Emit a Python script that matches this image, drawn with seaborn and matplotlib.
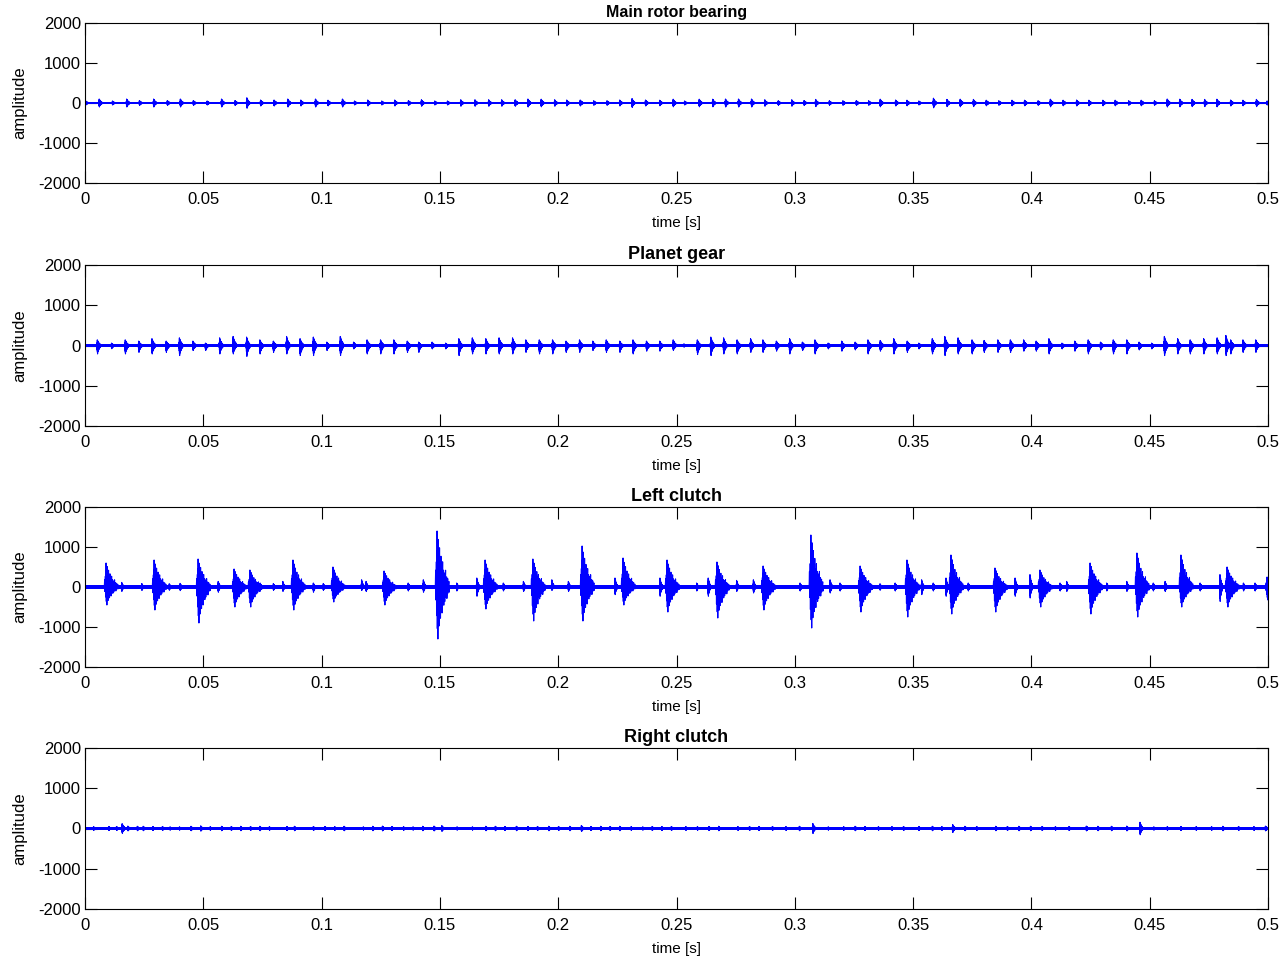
import numpy as np
import pandas as pd
import matplotlib
matplotlib.use("Agg")
import matplotlib.pyplot as plt
import seaborn as sns

# ---------------- data ----------------
titles = ["Main rotor bearing", "Planet gear", "Left clutch", "Right clutch"]
x_ticks = [0, 0.05, 0.1, 0.15, 0.2, 0.25, 0.3, 0.35, 0.4, 0.45, 0.5]
x_tick_labels = ["0", "0.05", "0.1", "0.15", "0.2", "0.25", "0.3", "0.35", "0.4", "0.45", "0.5"]
y_ticks = [-2000, -1000, 0, 1000, 2000]
y_tick_labels = ["-2000", "-1000", "0", "1000", "2000"]

# Main rotor bearing: impulse times [s] and amplitude
rotor_t = [0.0003, 0.0060, 0.0116, 0.0176, 0.0230, 0.0290, 0.0348, 0.0403, 0.0458, 0.0516,
           0.0577, 0.0634, 0.0684, 0.0742, 0.0799, 0.0857, 0.0912, 0.0974, 0.1027, 0.1088,
           0.1139, 0.1195, 0.1254, 0.1309, 0.1367, 0.1422, 0.1478, 0.1532, 0.1588, 0.1648,
           0.1706, 0.1761, 0.1818, 0.1872, 0.1928, 0.1985, 0.2036, 0.2093, 0.2150, 0.2206,
           0.2260, 0.2312, 0.2369, 0.2429, 0.2486, 0.2534, 0.2596, 0.2653, 0.2707, 0.2762,
           0.2817, 0.2873, 0.2930, 0.2987, 0.3039, 0.3088, 0.3146, 0.3203, 0.3260, 0.3312,
           0.3361, 0.3426, 0.3474, 0.3524, 0.3586, 0.3643, 0.3699, 0.3755, 0.3809, 0.3862,
           0.3918, 0.3971, 0.4028, 0.4080, 0.4134, 0.4191, 0.4243, 0.4302, 0.4354, 0.4411,
           0.4464, 0.4520, 0.4574, 0.4627, 0.4679, 0.4732, 0.4784, 0.4842, 0.4894, 0.4951,
           0.4996]
rotor_amp = [50, 100, 50, 100, 60, 100, 60, 100, 60, 50,
             100, 60, 130, 75, 75, 100, 75, 100, 70, 100,
             50, 75, 50, 75, 60, 80, 50, 50, 80, 80,
             80, 80, 80, 100, 95, 80, 75, 75, 55, 55,
             75, 110, 75, 70, 95, 50, 95, 95, 100, 100,
             100, 80, 55, 80, 60, 90, 55, 55, 60, 55,
             95, 75, 70, 50, 120, 90, 95, 90, 70, 55,
             70, 70, 55, 95, 70, 75, 70, 70, 70, 55,
             70, 55, 100, 95, 90, 90, 95, 75, 70, 90,
             50]

# Planet gear: impulse times [s], positive and negative peaks
gear_t = [0.0052, 0.0112, 0.0170, 0.0227, 0.0283, 0.0343, 0.0399, 0.0456, 0.0509, 0.0569,
          0.0626, 0.0683, 0.0739, 0.0796, 0.0852, 0.0909, 0.0965, 0.1022, 0.1079, 0.1135,
          0.1192, 0.1249, 0.1305, 0.1362, 0.1410, 0.1467, 0.1524, 0.1580, 0.1637, 0.1694,
          0.1750, 0.1807, 0.1863, 0.1920, 0.1976, 0.2033, 0.2090, 0.2146, 0.2203, 0.2260,
          0.2316, 0.2373, 0.2429, 0.2486, 0.2531, 0.2588, 0.2645, 0.2699, 0.2756, 0.2813,
          0.2865, 0.2922, 0.2978, 0.3032, 0.3085, 0.3141, 0.3198, 0.3255, 0.3309, 0.3361,
          0.3418, 0.3475, 0.3524, 0.3581, 0.3634, 0.3690, 0.3749, 0.3800, 0.3858, 0.3911,
          0.3967, 0.4020, 0.4074, 0.4129, 0.4183, 0.4240, 0.4292, 0.4346, 0.4403, 0.4455,
          0.4508, 0.4562, 0.4618, 0.4671, 0.4728, 0.4785, 0.4822, 0.4842, 0.4894, 0.4948]
gear_pos = [140, 60, 140, 110, 170, 110, 190, 110, 60, 190,
            225, 210, 140, 110, 225, 170, 210, 85, 225, 85,
            140, 140, 140, 110, 85, 85, 60, 170, 190, 170,
            190, 190, 140, 140, 140, 110, 140, 110, 140, 110,
            140, 110, 110, 140, 40, 140, 210, 190, 140, 170,
            140, 110, 170, 85, 140, 60, 110, 85, 140, 125,
            170, 110, 60, 170, 225, 190, 140, 125, 140, 140,
            140, 110, 170, 60, 110, 140, 85, 140, 140, 85,
            60, 225, 170, 140, 170, 190, 250, 140, 140, 140]
gear_neg = [210, 80, 210, 170, 210, 170, 250, 125, 125, 210,
            210, 270, 210, 170, 210, 250, 250, 125, 250, 85,
            210, 210, 210, 170, 170, 85, 85, 250, 210, 210,
            210, 210, 170, 210, 210, 170, 170, 125, 170, 170,
            210, 140, 140, 125, 40, 225, 250, 210, 210, 170,
            170, 140, 210, 125, 210, 85, 140, 110, 210, 140,
            210, 170, 85, 210, 250, 210, 210, 170, 170, 170,
            140, 140, 210, 85, 140, 210, 110, 210, 210, 110,
            85, 250, 210, 210, 210, 210, 250, 210, 170, 170]

# Left clutch: main bursts [s], positive and negative peaks
clutch_t = [0.0089, 0.0292, 0.0478, 0.0630, 0.0697, 0.0879, 0.1048, 0.1264, 0.1488, 0.1691,
            0.1893, 0.2101, 0.2274, 0.2460, 0.2671, 0.2866, 0.3068, 0.3276, 0.3474, 0.3660,
            0.3846, 0.4036, 0.4248, 0.4446, 0.4632, 0.4827, 0.4996]
clutch_pos = [600, 675, 700, 450, 425, 675, 500, 400, 1400, 675,
              700, 1025, 725, 675, 625, 525, 1300, 525, 675, 800,
              475, 425, 600, 850, 800, 500, 250]
clutch_neg = [450, 575, 900, 500, 500, 575, 375, 450, 1300, 550,
              850, 850, 450, 625, 775, 575, 1025, 625, 750, 675,
              625, 500, 675, 750, 500, 500, 325]
# Left clutch: small isolated spikes between the bursts
clutch_minor_t = [0.0155, 0.0240, 0.0356, 0.0402, 0.0563, 0.0740, 0.0796, 0.0836, 0.0965, 0.1007,
                  0.1169, 0.1188, 0.1366, 0.1430, 0.1571, 0.1656, 0.1768, 0.1853, 0.1973, 0.2043,
                  0.2240, 0.2430, 0.2585, 0.2634, 0.2754, 0.2825, 0.3022, 0.3149, 0.3191, 0.3360,
                  0.3424, 0.3536, 0.3585, 0.3639, 0.3733, 0.3931, 0.3994, 0.4121, 0.4149, 0.4318,
                  0.4403, 0.4515, 0.4565, 0.4713, 0.4797, 0.4896, 0.4945]
clutch_minor_pos = [115, 85, 80, 90, 140, 100, 85, 140, 100, 85,
                    180, 140, 100, 180, 100, 225, 100, 140, 180, 140,
                    225, 225, 100, 225, 165, 180, 100, 180, 100, 80,
                    100, 180, 100, 225, 100, 225, 310, 100, 140, 100,
                    140, 100, 140, 100, 310, 100, 100]
clutch_minor_neg = [110, 85, 80, 90, 130, 100, 85, 110, 130, 85,
                    85, 110, 100, 130, 100, 230, 100, 110, 85, 110,
                    190, 230, 100, 230, 110, 150, 100, 150, 100, 80,
                    100, 190, 100, 230, 100, 230, 275, 100, 110, 100,
                    110, 100, 110, 100, 360, 100, 100]

# Right clutch: small events [s] and amplitude
right_t = [0.0036, 0.0100, 0.0133, 0.0157, 0.0181, 0.0221, 0.0246, 0.0286, 0.0327, 0.0359,
           0.0399, 0.0448, 0.0489, 0.0529, 0.0577, 0.0618, 0.0658, 0.0699, 0.0739, 0.0779,
           0.0853, 0.0885, 0.0965, 0.1014, 0.1055, 0.1095, 0.1176, 0.1216, 0.1257, 0.1297,
           0.1346, 0.1386, 0.1427, 0.1475, 0.1508, 0.1572, 0.1637, 0.1694, 0.1734, 0.1774,
           0.1823, 0.1871, 0.1912, 0.1960, 0.2001, 0.2049, 0.2098, 0.2138, 0.2179, 0.2219,
           0.2260, 0.2308, 0.2357, 0.2397, 0.2437, 0.2478, 0.2539, 0.2588, 0.2637, 0.2678,
           0.2759, 0.2808, 0.2848, 0.2905, 0.2962, 0.3019, 0.3076, 0.3141, 0.3206, 0.3255,
           0.3296, 0.3353, 0.3410, 0.3459, 0.3524, 0.3581, 0.3621, 0.3667, 0.3719, 0.3768,
           0.3849, 0.3898, 0.3947, 0.3996, 0.4045, 0.4101, 0.4159, 0.4232, 0.4281, 0.4338,
           0.4403, 0.4459, 0.4517, 0.4574, 0.4631, 0.4696, 0.4761, 0.4809, 0.4875, 0.4940,
           0.4989]
right_amp = [45, 50, 50, 120, 60, 55, 55, 50, 50, 40,
             40, 55, 65, 45, 55, 50, 55, 50, 55, 45,
             50, 55, 50, 50, 45, 55, 40, 55, 60, 50,
             45, 40, 55, 60, 70, 40, 40, 55, 55, 50,
             55, 50, 50, 55, 50, 55, 75, 50, 55, 50,
             55, 45, 40, 50, 50, 50, 45, 45, 50, 55,
             45, 50, 50, 50, 45, 55, 125, 40, 45, 55,
             50, 45, 45, 50, 50, 55, 45, 100, 55, 50,
             55, 50, 55, 55, 50, 45, 50, 60, 55, 55,
             60, 155, 40, 45, 50, 45, 45, 55, 50, 45,
             60]

# background vibration level of each channel (half-width of the band)
noise_level = [22, 30, 60, 28]

# ---------------- styling of one impulse (shape, not data) ----------------
SHAPE_OFFSETS = [-0.12, -0.06, -0.02, 0.0, 0.05, 0.10, 0.15, 0.21, 0.27, 0.33,
                 0.40, 0.47, 0.55, 0.63, 0.72, 0.81, 0.90, 1.0]
SHAPE_UP = [0.30, 0.45, 0.65, 1.0, 0.60, 0.85, 0.50, 0.70, 0.45, 0.55,
            0.35, 0.45, 0.30, 0.25, 0.30, 0.18, 0.15, 0.10]
SHAPE_DOWN = [0.25, 0.55, 0.50, 0.80, 1.0, 0.55, 0.75, 0.45, 0.60, 0.40,
              0.50, 0.30, 0.35, 0.28, 0.20, 0.22, 0.12, 0.10]


def impulse_rows(times, pos, neg, dur):
    rows = []
    for t0, p, n in zip(times, pos, neg):
        rows.append((t0 - 0.15 * dur, 0.0))
        for off, su, sd in zip(SHAPE_OFFSETS, SHAPE_UP, SHAPE_DOWN):
            t = t0 + off * dur
            rows.append((t, p * su))
            rows.append((t + 0.02 * dur, -n * sd))
        rows.append((t0 + 1.05 * dur, 0.0))
    return rows


def signal_frame(groups):
    rows = [(0.0, 0.0), (0.5, 0.0)]
    for g in groups:
        rows += impulse_rows(*g)
    df = pd.DataFrame(rows, columns=["time", "amplitude"])
    df = df[(df["time"] >= 0) & (df["time"] <= 0.5)]
    return df.sort_values("time", kind="mergesort").reset_index(drop=True)


signals = [
    signal_frame([(rotor_t, rotor_amp, rotor_amp, 0.0014)]),
    signal_frame([(gear_t, gear_pos, gear_neg, 0.0016)]),
    signal_frame([(clutch_t, clutch_pos, clutch_neg, 0.0050),
                  (clutch_minor_t, clutch_minor_pos, clutch_minor_neg, 0.0012)]),
    signal_frame([(right_t, right_amp, right_amp, 0.0014)]),
]

# ---------------- figure ----------------
sns.set_theme(style="white")
plt.rcParams["font.family"] = ["Liberation Sans", "DejaVu Sans"]
plt.rcParams["axes.edgecolor"] = "black"
plt.rcParams["axes.linewidth"] = 0.8

fig = plt.figure(figsize=(12.84, 9.56), dpi=100)
W, H = 1284.0, 956.0
panel_px = [(23, 183), (265, 426), (507, 667), (748, 909)]
left_px, right_px = 85, 1268
title_sizes = [11.5, 13, 13, 13]

blue = "#0000ff"
for i, (top, bot) in enumerate(panel_px):
    ax = fig.add_axes([left_px / W, 1 - bot / H, (right_px - left_px) / W, (bot - top) / H])
    ax.fill_between([0, 0.5], [-noise_level[i]] * 2, [noise_level[i]] * 2,
                    color=blue, linewidth=0)
    sns.lineplot(data=signals[i], x="time", y="amplitude", ax=ax, color=blue,
                 linewidth=0.8, estimator=None, sort=False)
    ax.set_xlim(0, 0.5)
    ax.set_ylim(-2000, 2000)
    ax.set_xticks(x_ticks)
    ax.set_xticklabels(x_tick_labels)
    ax.set_yticks(y_ticks)
    ax.set_yticklabels(y_tick_labels)
    ax.tick_params(axis="both", which="major", direction="in", length=8.5, width=0.8,
                   color="black", labelsize=12, labelcolor="black",
                   top=True, right=True, bottom=True, left=True)
    ax.tick_params(axis="x", pad=6.5)
    ax.tick_params(axis="y", pad=3)
    ax.set_xlabel("time [s]", fontsize=11, color="black", labelpad=6.5)
    ax.set_ylabel("amplitude", fontsize=12, color="black", labelpad=8)
    ax.set_title(titles[i], fontsize=title_sizes[i], fontweight="bold", color="black", pad=4)
    for s in ax.spines.values():
        s.set_visible(True)
        s.set_color("black")
        s.set_linewidth(0.8)

fig.savefig("out.png", dpi=100)
